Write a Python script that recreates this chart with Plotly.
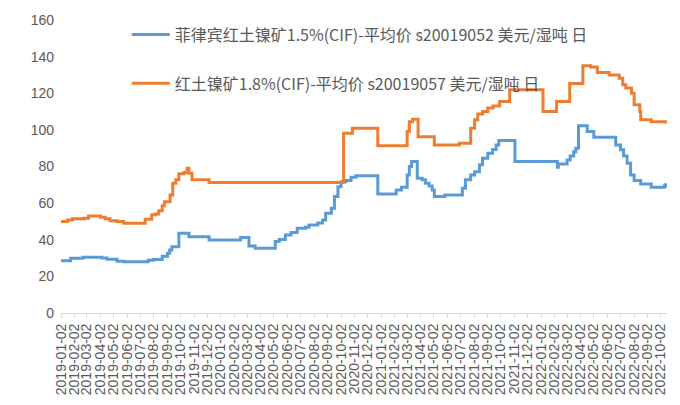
import plotly.graph_objects as go

# ---------------- data ----------------
blue_name = "菲律宾红土镍矿1.5%(CIF)-平均价 s20019052 美元/湿吨 日"
orange_name = "红土镍矿1.8%(CIF)-平均价 s20019057 美元/湿吨 日"

blue_dates = [
    "2019-01-02", "2019-01-24", "2019-02-21", "2019-04-05", "2019-04-17", "2019-05-10",
    "2019-05-25", "2019-07-20", "2019-08-01", "2019-08-21", "2019-09-02", "2019-09-07",
    "2019-09-12", "2019-09-28", "2019-10-21", "2019-12-06", "2020-02-16", "2020-03-06",
    "2020-03-20", "2020-05-05", "2020-05-14", "2020-05-28", "2020-06-10", "2020-06-24",
    "2020-07-13", "2020-07-21", "2020-08-10", "2020-08-21", "2020-08-28", "2020-09-10",
    "2020-09-17", "2020-09-25", "2020-10-02", "2020-10-13", "2020-10-25", "2020-11-05",
    "2020-12-25", "2021-02-05", "2021-02-17", "2021-03-02", "2021-03-07", "2021-03-12",
    "2021-03-25", "2021-04-05", "2021-04-13", "2021-04-21", "2021-04-28", "2021-05-03",
    "2021-05-27", "2021-07-06", "2021-07-13", "2021-07-25", "2021-08-03", "2021-08-14",
    "2021-08-21", "2021-09-02", "2021-09-13", "2021-09-21", "2021-09-27", "2021-11-03",
    "2022-02-08", "2022-02-10", "2022-03-02", "2022-03-09", "2022-03-17", "2022-03-22",
    "2022-03-28", "2022-04-17", "2022-05-02", "2022-06-21", "2022-07-02", "2022-07-09",
    "2022-07-17", "2022-07-25", "2022-08-02", "2022-08-17", "2022-09-10", "2022-10-10",
    "2022-10-13",
]
blue_values = [
    28.6, 29.9, 30.5, 30.0, 29.3, 28.3,
    28.0, 28.8, 29.2, 31.0, 32.6, 34.4,
    36.2, 43.5, 41.7, 39.9, 41.2, 36.6,
    35.3, 39.0, 40.2, 42.6, 44.0, 46.3,
    46.8, 48.1, 49.2, 50.8, 54.5, 57.2,
    63.6, 69.0, 71.7, 72.3, 74.1, 74.9,
    65.0, 67.2, 68.7, 75.4, 80.0, 82.7,
    73.6, 72.7, 70.9, 69.4, 67.2, 63.6,
    64.5, 68.1, 72.7, 75.4, 77.2, 80.9,
    84.5, 87.3, 89.3, 91.8, 94.2, 82.7,
    79.6, 81.4, 83.6, 85.8, 88.1, 90.0,
    102.2, 99.1, 96.0, 91.8, 89.1, 85.8,
    81.8, 75.4, 72.3, 70.5, 68.7, 69.5,
    70.9,
]

orange_dates = [
    "2019-01-02", "2019-01-17", "2019-01-28", "2019-02-24", "2019-03-06", "2019-04-02",
    "2019-04-13", "2019-04-24", "2019-05-10", "2019-05-25", "2019-07-13", "2019-07-28",
    "2019-08-06", "2019-08-13", "2019-08-21", "2019-08-26", "2019-09-08", "2019-09-14",
    "2019-09-21", "2019-09-28", "2019-10-10", "2019-10-17", "2019-10-21", "2019-10-28",
    "2019-12-06", "2020-10-08", "2020-10-28", "2020-12-25", "2021-03-02", "2021-03-07",
    "2021-03-14", "2021-03-27", "2021-05-03", "2021-06-29", "2021-07-25", "2021-08-03",
    "2021-08-10", "2021-08-21", "2021-09-02", "2021-09-14", "2021-09-29", "2021-10-22",
    "2022-01-06", "2022-02-06", "2022-03-08", "2022-04-07", "2022-04-25", "2022-05-10",
    "2022-06-06", "2022-06-29", "2022-07-07", "2022-07-14", "2022-07-27", "2022-08-02",
    "2022-08-15", "2022-08-17", "2022-09-10", "2022-10-13",
]
orange_values = [
    49.9, 50.8, 51.4, 51.7, 53.0, 52.3,
    51.4, 50.4, 49.9, 49.0, 51.2, 53.6,
    54.0, 55.9, 58.5, 60.8, 64.5, 70.9,
    72.7, 76.0, 76.7, 79.0, 76.3, 72.7,
    71.2, 98.2, 100.9, 91.3, 99.1, 104.5,
    105.8, 96.3, 91.8, 92.7, 100.9, 105.5,
    108.7, 110.0, 111.9, 113.1, 115.5, 121.9,
    110.0, 115.5, 125.3, 135.0, 134.3, 131.3,
    130.0, 128.2, 124.6, 122.8, 120.0, 113.7,
    110.0, 105.5, 104.5, 103.5,
]

tick_labels = [f"{y}-{m:02d}-02" for y in (2019, 2020, 2021, 2022) for m in range(1, 13)][:46]
y_ticks = [0, 20, 40, 60, 80, 100, 120, 140, 160]

# ---------------- figure ----------------
BLUE = "#5B9BD5"
ORANGE = "#ED7D31"
GREY = "#595959"
AXIS_GREY = "#D9D9D9"
X_RANGE = ["2019-01-02", "2022-10-16"]

even_labels = tick_labels[0::2]
odd_labels = tick_labels[1::2]

fig = go.Figure()
fig.add_trace(go.Scatter(
    x=blue_dates, y=blue_values, mode="lines", name=blue_name,
    line=dict(color=BLUE, width=3, shape="hv"), legendgroup="a",
))
fig.add_trace(go.Scatter(
    x=orange_dates, y=orange_values, mode="lines", name=orange_name,
    line=dict(color=ORANGE, width=3, shape="hv"), legendgroup="b",
))
# empty helper trace (no points drawn) so the second tick-label axis is rendered
fig.add_trace(go.Scatter(
    x=odd_labels, y=[None] * len(odd_labels), mode="lines", xaxis="x2", yaxis="y",
    showlegend=False, hoverinfo="skip",
))

common_x = dict(
    type="date", range=X_RANGE, automargin=False,
    tickangle=-90, tickfont=dict(size=14, color=GREY),
    showgrid=False, zeroline=False,
    ticks="outside", ticklen=4, tickcolor=AXIS_GREY,
)

fig.update_layout(
    width=680, height=405,
    margin=dict(l=53, r=21, t=12, b=100, autoexpand=False),
    paper_bgcolor="white", plot_bgcolor="white",
    font=dict(family="Liberation Sans, Noto Sans CJK SC, sans-serif", color=GREY),
    showlegend=True,
    legend=dict(
        x=0.1085, y=1.008, xanchor="left", yanchor="top",
        bgcolor="rgba(0,0,0,0)", tracegroupgap=25, itemwidth=38,
        font=dict(size=16, family="Noto Sans CJK SC, Liberation Sans, sans-serif", color=GREY),
        traceorder="grouped",
    ),
    xaxis=dict(
        tickmode="array", tickvals=even_labels, ticktext=even_labels,
        showline=True, linecolor=AXIS_GREY, linewidth=1,
        **common_x,
    ),
    xaxis2=dict(
        tickmode="array", tickvals=odd_labels, ticktext=odd_labels,
        overlaying="x", matches="x", anchor="y", side="bottom",
        showline=False,
        **common_x,
    ),
    yaxis=dict(
        range=[0, 160], tickvals=y_ticks, automargin=False,
        tickfont=dict(size=14, color=GREY),
        showgrid=False, zeroline=False, showline=False,
        ticks="", ticklabelstandoff=6,
    ),
)

fig.write_html("out.html")
